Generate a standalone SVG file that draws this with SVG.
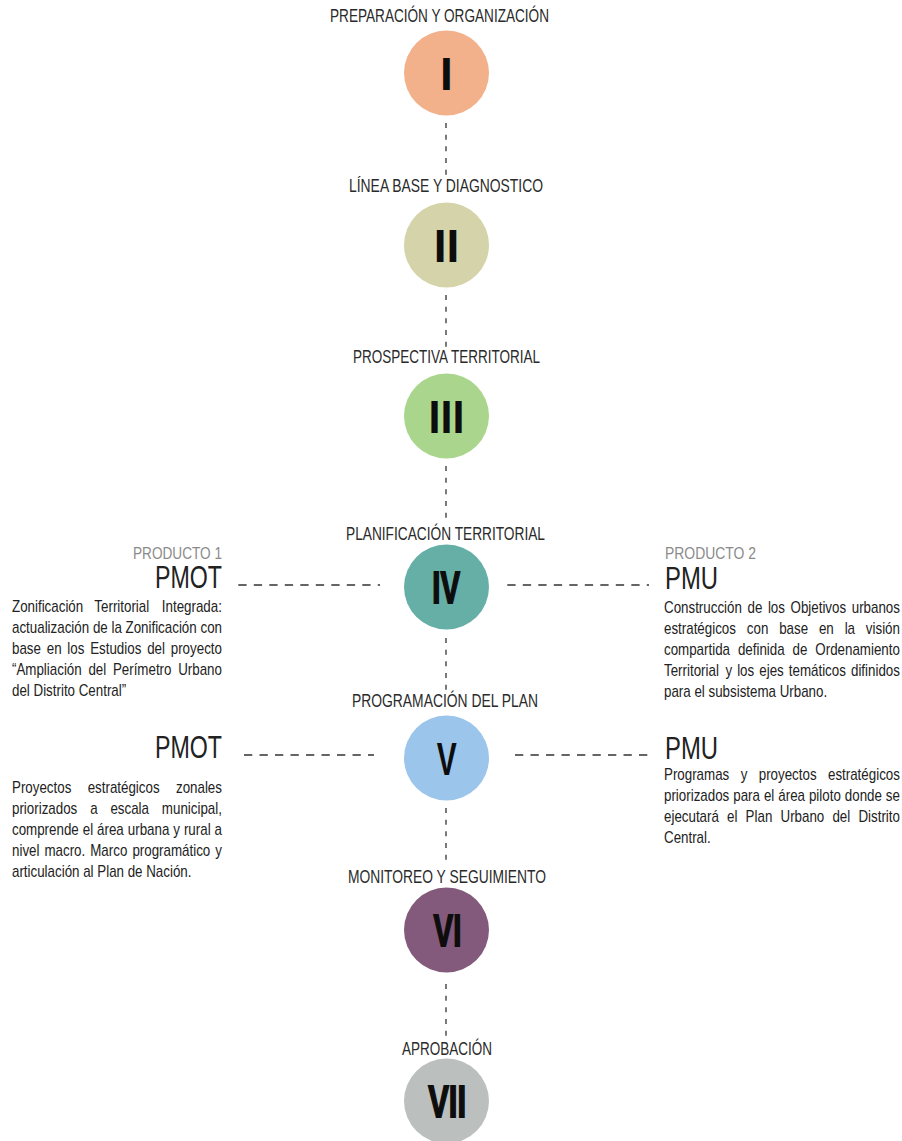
<svg xmlns="http://www.w3.org/2000/svg" width="902" height="1141" viewBox="0 0 902 1141">
<style>
text{font-family:"Liberation Sans",Arial,sans-serif}
.t{font-size:17.5px;fill:#2a2a2a}
.n{font-weight:bold;font-size:46px;fill:#0d0d0d}
.nc{font-weight:bold;font-size:44px;fill:#0d0d0d;stroke:#0d0d0d;stroke-width:1.8;stroke-linejoin:miter}
.m{text-anchor:middle}
.p{font-size:16px;fill:#222}
.h{font-size:31px;fill:#222}
.s{font-size:16.5px;fill:#8a8a8a}
.v{stroke:#333;stroke-width:1.3;stroke-dasharray:5 6.67;fill:none}
.hz{stroke:#333;stroke-width:1.3;stroke-dasharray:8.3 7.2;fill:none}
</style>
<rect width="902" height="1141" fill="#fff"/>
<g id="connectors">
<line class="v" x1="446" y1="123" x2="446" y2="175"/>
<line class="v" x1="446" y1="295" x2="446" y2="347"/>
<line class="v" x1="446" y1="466" x2="446" y2="518"/>
<line class="v" x1="446" y1="638" x2="446" y2="690"/>
<line class="v" x1="446" y1="808" x2="446" y2="862"/>
<line class="v" x1="446" y1="984" x2="446" y2="1040"/>
<line class="hz" x1="238.3" y1="585" x2="380" y2="585"/>
<line class="hz" x1="507.3" y1="585" x2="649" y2="585"/>
<line class="hz" x1="244" y1="755" x2="374" y2="755"/>
<line class="hz" x1="515" y1="755" x2="650" y2="755"/>
</g>
<g id="node1">
<text class="t" x="330" y="22" textLength="219" lengthAdjust="spacingAndGlyphs">PREPARACIÓN Y ORGANIZACIÓN</text>
<circle cx="446.5" cy="73" r="42.5" fill="#F2B18A"/>
<text class="n m" x="446.5" y="90">I</text>
</g>
<g id="node2">
<text class="t" x="349" y="192" textLength="194" lengthAdjust="spacingAndGlyphs">LÍNEA BASE Y DIAGNOSTICO</text>
<circle cx="446.5" cy="245" r="42.5" fill="#D4D3A9"/>
<text class="n m" x="446.5" y="262">II</text>
</g>
<g id="node3">
<text class="t" x="353" y="363" textLength="187" lengthAdjust="spacingAndGlyphs">PROSPECTIVA TERRITORIAL</text>
<circle cx="446.5" cy="416" r="42.5" fill="#A9D68C"/>
<text class="n" x="428.5" y="433" textLength="36" lengthAdjust="spacingAndGlyphs">III</text>
</g>
<g id="node4">
<text class="t" x="346" y="540" textLength="199" lengthAdjust="spacingAndGlyphs">PLANIFICACIÓN TERRITORIAL</text>
<circle cx="446.5" cy="587" r="42.5" fill="#65AFA7"/>
<text class="nc" x="432.3" y="603" textLength="27.7" lengthAdjust="spacingAndGlyphs">IV</text>
</g>
<g id="node5">
<text class="t" x="352" y="707" textLength="186" lengthAdjust="spacingAndGlyphs">PROGRAMACIÓN DEL PLAN</text>
<circle cx="446.5" cy="758" r="42.5" fill="#9BC5EA"/>
<text class="n" x="436.7" y="775" textLength="20" lengthAdjust="spacingAndGlyphs">V</text>
</g>
<g id="node6">
<text class="t" x="348" y="883" textLength="198" lengthAdjust="spacingAndGlyphs">MONITOREO Y SEGUIMIENTO</text>
<circle cx="446.5" cy="930" r="42.5" fill="#835A7B"/>
<text class="nc" x="433.6" y="946" textLength="27.7" lengthAdjust="spacingAndGlyphs">VI</text>
</g>
<g id="node7">
<text class="t" x="402" y="1055" textLength="90" lengthAdjust="spacingAndGlyphs">APROBACIÓN</text>
<circle cx="446.5" cy="1101" r="42.5" fill="#BBBFBD"/>
<text class="nc" x="428.2" y="1117" textLength="37.9" lengthAdjust="spacingAndGlyphs">VII</text>
</g>
<g id="product1-pmot">
<text class="s" x="133" y="559" textLength="89" lengthAdjust="spacingAndGlyphs">PRODUCTO 1</text>
<text class="h" x="155" y="588" textLength="67" lengthAdjust="spacingAndGlyphs">PMOT</text>
<g class="p" transform="scale(0.835,1)">
<text y="612"><tspan x="14.37">Zonificación</tspan><tspan x="113.0">Territorial</tspan><tspan x="193.83">Integrada:</tspan></text>
<text y="633"><tspan x="14.37">actualización</tspan><tspan x="111.26">de</tspan><tspan x="133.46">la</tspan><tspan x="150.31">Zonificación</tspan><tspan x="240.08">con</tspan></text>
<text y="654"><tspan x="14.37">base</tspan><tspan x="55.96">en</tspan><tspan x="80.65">los</tspan><tspan x="108.01">Estudios</tspan><tspan x="176.27">del</tspan><tspan x="204.51">proyecto</tspan></text>
<text y="675"><tspan x="14.37">“Ampliación</tspan><tspan x="105.90">del</tspan><tspan x="135.21">Perímetro</tspan><tspan x="213.41">Urbano</tspan></text>
<text y="696" x="14.37">del Distrito Central”</text>
</g>
</g>
<g id="product2-pmu">
<text class="s" x="665" y="559" textLength="91" lengthAdjust="spacingAndGlyphs">PRODUCTO 2</text>
<text class="h" x="665" y="589" textLength="53" lengthAdjust="spacingAndGlyphs">PMU</text>
<g class="p" transform="scale(0.835,1)">
<text y="613"><tspan x="795.21">Construcción</tspan><tspan x="895.20">de</tspan><tspan x="919.63">los</tspan><tspan x="946.71">Objetivos</tspan><tspan x="1020.03">urbanos</tspan></text>
<text y="634"><tspan x="795.21">estratégicos</tspan><tspan x="894.42">con</tspan><tspan x="933.16">base</tspan><tspan x="980.80">en</tspan><tspan x="1011.54">la</tspan><tspan x="1036.94">visión</tspan></text>
<text y="655"><tspan x="795.21">compartida</tspan><tspan x="883.77">definida</tspan><tspan x="949.24">de</tspan><tspan x="976.46">Ordenamiento</tspan></text>
<text y="676"><tspan x="795.21">Territorial</tspan><tspan x="868.79">y</tspan><tspan x="882.81">los</tspan><tspan x="909.29">ejes</tspan><tspan x="944.66">temáticos</tspan><tspan x="1019.15">difinidos</tspan></text>
<text y="697" x="795.21">para el subsistema Urbano.</text>
</g>
</g>
<g id="programa-pmot">
<text class="h" x="155" y="758" textLength="67" lengthAdjust="spacingAndGlyphs">PMOT</text>
<g class="p" transform="scale(0.835,1)">
<text y="793"><tspan x="14.37">Proyectos</tspan><tspan x="104.99">estratégicos</tspan><tspan x="210.74">zonales</tspan></text>
<text y="814"><tspan x="14.37">priorizados</tspan><tspan x="107.98">a</tspan><tspan x="132.25">escala</tspan><tspan x="193.86">municipal,</tspan></text>
<text y="835"><tspan x="14.37">comprende</tspan><tspan x="99.12">el</tspan><tspan x="116.28">área</tspan><tspan x="153.02">urbana</tspan><tspan x="207.54">y</tspan><tspan x="220.26">rural</tspan><tspan x="256.97">a</tspan></text>
<text y="856"><tspan x="14.37">nivel</tspan><tspan x="53.24">macro.</tspan><tspan x="108.11">Marco</tspan><tspan x="158.54">programático</tspan><tspan x="257.87">y</tspan></text>
<text y="877" x="14.37">articulación al Plan de Nación.</text>
</g>
</g>
<g id="programa-pmu">
<text class="h" x="665" y="759" textLength="53" lengthAdjust="spacingAndGlyphs">PMU</text>
<g class="p" transform="scale(0.835,1)">
<text y="780"><tspan x="795.21">Programas</tspan><tspan x="887.04">y</tspan><tspan x="908.63">proyectos</tspan><tspan x="991.58">estratégicos</tspan></text>
<text y="801"><tspan x="795.21">priorizados</tspan><tspan x="878.17">para</tspan><tspan x="914.90">el</tspan><tspan x="932.06">área</tspan><tspan x="968.79">piloto</tspan><tspan x="1011.75">donde</tspan><tspan x="1060.94">se</tspan></text>
<text y="822"><tspan x="795.21">ejecutará</tspan><tspan x="870.77">el</tspan><tspan x="892.97">Plan</tspan><tspan x="934.74">Urbano</tspan><tspan x="996.96">del</tspan><tspan x="1028.06">Distrito</tspan></text>
<text y="843" x="795.21">Central.</text>
</g>
</g>
</svg>
